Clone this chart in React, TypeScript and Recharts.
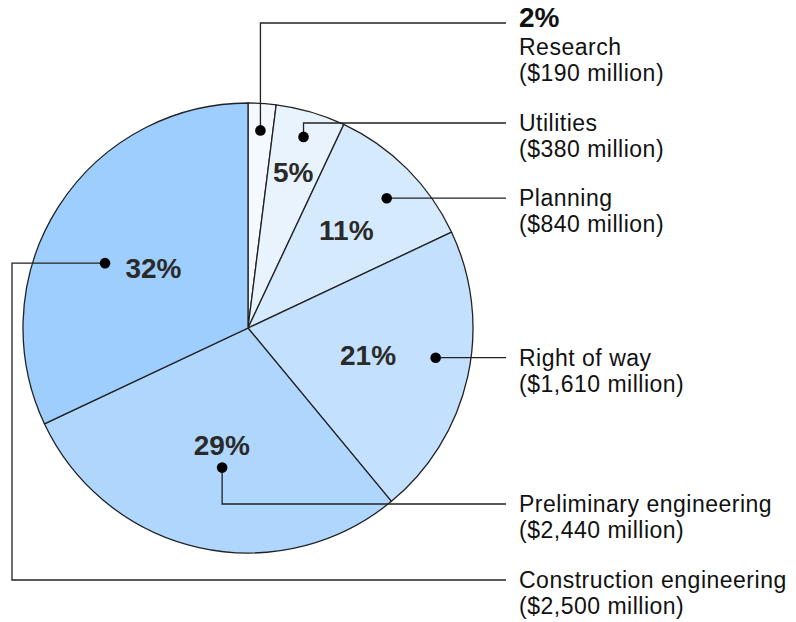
import { PieChart, Pie, Cell } from "recharts";

const categories = [
  "Research",
  "Utilities",
  "Planning",
  "Right of way",
  "Preliminary engineering",
  "Construction engineering",
];
const shares = [2, 5, 11, 21, 29, 32];
const amounts = [
  "($190 million)",
  "($380 million)",
  "($840 million)",
  "($1,610 million)",
  "($2,440 million)",
  "($2,500 million)",
];

const colors = ["#f4f9ff", "#e8f3fe", "#d6eafe", "#c3e1fe", "#afd7fd", "#9ecefd"];

// label layout, one entry per slice
const pctRadius = [0, 162, 139, 123, 120, 112];
const dotRadius = [198, 199, 190, 190, 142, 157];
const dotShift = [0, 0, 1.9, -3.6, -2.1, -8]; // degrees clockwise from mid angle
const labelY = [23, 123, null, null, 504, 580];

const data = categories.map((name, i) => ({ name, share: shares[i] }));

const RAD = Math.PI / 180;
const TEXT_X = 519;
const LINE_END = 506;
const FONT = "'Liberation Sans', Arial, sans-serif";

const polar = (cx: number, cy: number, r: number, a: number) => ({
  x: cx + r * Math.cos(-a * RAD),
  y: cy + r * Math.sin(-a * RAD),
});

const renderLabel = (props: any) => {
  const { cx, cy, midAngle, index } = props;
  const dot = polar(cx, cy, dotRadius[index], midAngle - dotShift[index]);
  const ly = labelY[index] ?? dot.y;

  let path = "";
  if (index === 5) {
    path = `M${dot.x},${dot.y} L12,${dot.y} L12,${ly} L${LINE_END},${ly}`;
  } else if (labelY[index] != null) {
    path = `M${dot.x},${dot.y} L${dot.x},${ly} L${LINE_END},${ly}`;
  } else {
    path = `M${dot.x},${dot.y} L${LINE_END},${ly}`;
  }

  const pct = pctRadius[index] ? polar(cx, cy, pctRadius[index], midAngle) : null;

  return (
    <g key={`lab-${index}`}>
      <path d={path} fill="none" stroke="#222" strokeWidth={1.3} />
      <circle cx={dot.x} cy={dot.y} r={5.3} fill="#000" />
      {pct && (
        <text
          x={pct.x}
          y={pct.y + 10}
          textAnchor="middle"
          fontFamily={FONT}
          fontWeight="bold"
          fontSize={28}
          fill="#2a2a2a"
        >
          {shares[index]}%
        </text>
      )}
      {index === 0 ? (
        <g fontFamily={FONT} fill="#111">
          <text x={TEXT_X} y={27} fontSize={28} fontWeight="bold">
            {shares[index]}%
          </text>
          <text x={TEXT_X} y={55} fontSize={23} letterSpacing={0.5}>
            {categories[index]}
          </text>
          <text x={TEXT_X} y={81} fontSize={23} letterSpacing={0.5}>
            {amounts[index]}
          </text>
        </g>
      ) : (
        <g fontFamily={FONT} fill="#111">
          <text x={TEXT_X} y={ly + 8} fontSize={23} letterSpacing={0.5}>
            {categories[index]}
          </text>
          <text x={TEXT_X} y={ly + 34} fontSize={23} letterSpacing={0.5}>
            {amounts[index]}
          </text>
        </g>
      )}
    </g>
  );
};

export default function App() {
  return (
    <div
      style={{
        position: "absolute",
        left: 0,
        top: 0,
        width: 796,
        height: 622,
        background: "#fff",
      }}
    >
      <PieChart width={796} height={622} margin={{ top: 0, right: 0, bottom: 0, left: 0 }}>
        <Pie
          data={data}
          dataKey="share"
          nameKey="name"
          cx={248}
          cy={328}
          outerRadius={225}
          startAngle={90}
          endAngle={-270}
          stroke="#222"
          strokeWidth={1.3}
          label={renderLabel}
          labelLine={false}
          isAnimationActive={false}
        >
          {data.map((d, i) => (
            <Cell key={d.name} fill={colors[i]} />
          ))}
        </Pie>
      </PieChart>
    </div>
  );
}
